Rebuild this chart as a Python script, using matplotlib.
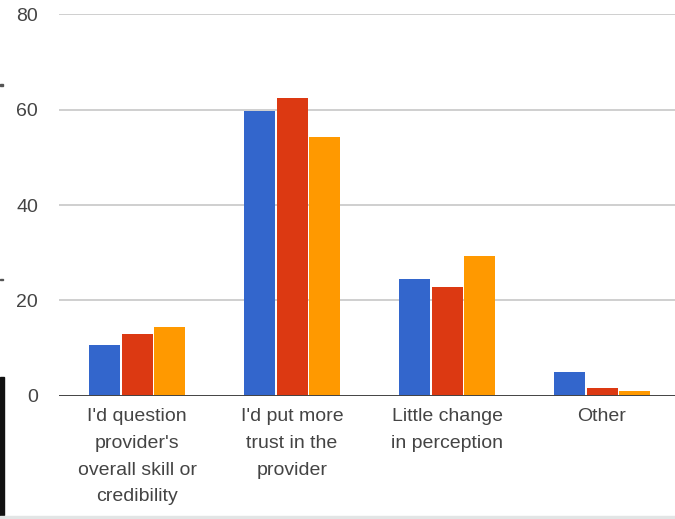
import numpy as np
import matplotlib.pyplot as plt
from matplotlib.patches import Rectangle

plt.rcParams['font.family'] = ['Liberation Sans', 'DejaVu Sans']

categories = ["I'd question\nprovider's\noverall skill or\ncredibility",
              "I'd put more\ntrust in the\nprovider",
              "Little change\nin perception",
              "Other"]
series_a = [10.6, 59.7, 24.5, 5.0]
series_b = [12.9, 62.4, 22.8, 1.7]
series_c = [14.5, 54.3, 29.4, 1.0]
yticks = [0, 20, 40, 60, 80]

colors = ['#3366cc', '#dc3912', '#ff9900']

fig = plt.figure(figsize=(6.75, 5.19), dpi=100)
ax = fig.add_axes([59.5 / 675, 123.3 / 519, 620 / 675, 381.4 / 519])

x = np.arange(len(categories))
w = 0.2
step = 0.21
for i, (vals, c) in enumerate(zip([series_a, series_b, series_c], colors)):
    ax.bar(x + (i - 1) * step, vals, width=w, color=c, zorder=3)

ax.set_xlim(-0.5, len(categories) - 0.5)
ax.set_ylim(0, 80)
ax.set_yticks(yticks)
ax.set_yticklabels([str(t) for t in yticks])
ax.set_xticks(x)
ax.set_xticklabels(categories, linespacing=1.75)

ax.grid(axis='y', color='#cccccc', linewidth=1.3, zorder=0)
ax.axhline(0, color='#444444', linewidth=1.4, zorder=4)
for s in ax.spines.values():
    s.set_visible(False)
ax.tick_params(axis='both', length=0, labelsize=14, labelcolor='#444444')
ax.tick_params(axis='y', pad=15.5)
ax.tick_params(axis='x', pad=9)

# screen edge bits
fig.patches.append(Rectangle((0, 4 / 519), 4 / 675, 138 / 519, transform=fig.transFigure,
                             color='#111111', zorder=10))
fig.patches.append(Rectangle((0, 0), 1, 3 / 519, transform=fig.transFigure,
                             color='#e2e5e5', zorder=10))
for yy in [86, 280]:
    fig.patches.append(Rectangle((0, (519 - yy) / 519), 3 / 675, 1.5 / 519,
                                 transform=fig.transFigure, color='#555555', zorder=10))

fig.savefig('out.png', dpi=100)
